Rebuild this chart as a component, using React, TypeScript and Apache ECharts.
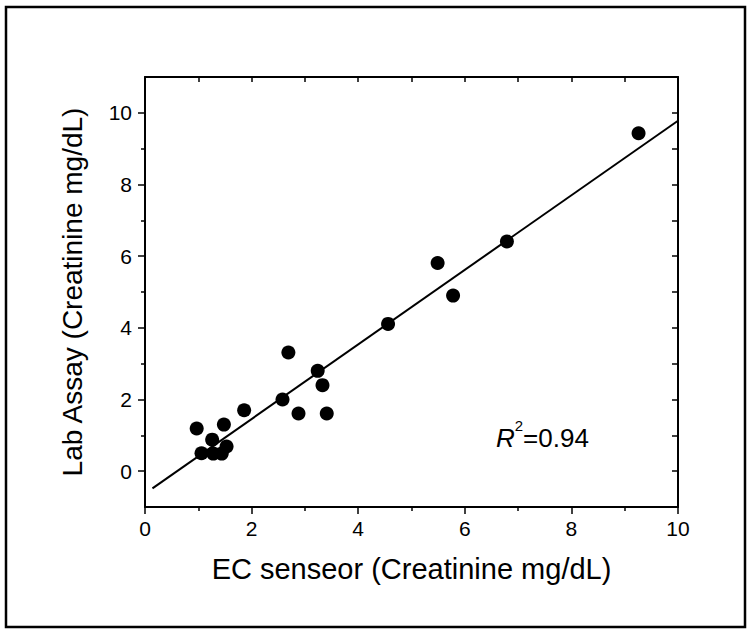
import React, { useEffect, useRef } from "react";
import * as echarts from "echarts";

const sensorValues = [0.97, 1.06, 1.26, 1.28, 1.44, 1.48, 1.53, 1.86, 2.58, 2.69, 2.88, 3.24, 3.33, 3.41, 4.56, 5.49, 5.78, 6.79, 9.26];
const labValues = [1.19, 0.5, 0.88, 0.49, 0.49, 1.3, 0.69, 1.7, 2.0, 3.31, 1.61, 2.8, 2.4, 1.61, 4.11, 5.81, 4.9, 6.41, 9.43];
const fitX = [0.14, 10];
const fitY = [-0.48, 9.78];
const yMajorTicks = [0, 2, 4, 6, 8, 10];
const yMinorTicks = [1, 3, 5, 7, 9];
const xTitle = "EC senseor (Creatinine mg/dL)";
const yTitle = "Lab Assay (Creatinine mg/dL)";
const r2Label = "0.94";

const FONT = "Liberation Sans, Arial, Helvetica, sans-serif";

export default function App() {
  const ref = useRef<HTMLDivElement>(null);
  useEffect(() => {
    if (!ref.current) return;
    const chart = echarts.init(ref.current, null, { renderer: "svg" });
    const axisLine = { show: true, onZero: false, lineStyle: { color: "#000", width: 2 } };
    const tickStyle = { color: "#000", width: 1.5 };
    const mainX = {
      type: "value",
      min: 0,
      max: 10,
      interval: 2,
      position: "bottom",
      axisLine,
      axisTick: { show: true, inside: false, length: 7, lineStyle: tickStyle },
      minorTick: { show: true, splitNumber: 2, length: 4, lineStyle: tickStyle },
      splitLine: { show: false },
      axisLabel: { show: true, color: "#000", fontSize: 21, fontFamily: FONT, margin: 11 },
      name: xTitle,
      nameLocation: "middle",
      nameGap: 47,
      nameTextStyle: { color: "#000", fontSize: 29, fontFamily: FONT },
    };
    const topX = {
      type: "value",
      min: 0,
      max: 10,
      interval: 1,
      position: "top",
      axisLine,
      axisTick: { show: true, inside: true, length: 5, lineStyle: tickStyle },
      axisLabel: { show: false },
      splitLine: { show: false },
    };
    const mainY = {
      type: "value",
      min: -1,
      max: 11,
      interval: 1,
      position: "left",
      axisLine,
      axisTick: { show: true, inside: false, length: 7, lineStyle: tickStyle, customValues: yMajorTicks },
      splitLine: { show: false },
      axisLabel: { show: true, color: "#000", fontSize: 21, fontFamily: FONT, margin: 13, customValues: yMajorTicks },
      name: yTitle,
      nameLocation: "middle",
      nameGap: 59,
      nameRotate: 90,
      nameTextStyle: { color: "#000", fontSize: 28, fontFamily: FONT },
    };
    const minorY = {
      type: "value",
      min: -1,
      max: 11,
      interval: 1,
      position: "left",
      axisLine: { show: false },
      axisTick: { show: true, inside: false, length: 4, lineStyle: tickStyle, customValues: yMinorTicks },
      axisLabel: { show: false },
      splitLine: { show: false },
    };
    const rightY = {
      type: "value",
      min: -1,
      max: 11,
      interval: 1,
      position: "right",
      axisLine,
      axisTick: { show: true, inside: true, length: 6, lineStyle: tickStyle },
      axisLabel: { show: false },
      splitLine: { show: false },
    };
    chart.setOption({
      animation: false,
      backgroundColor: "#fff",
      grid: { left: 145, top: 77, right: 72, bottom: 126, containLabel: false },
      xAxis: [mainX, topX],
      yAxis: [mainY, rightY, minorY],
      series: [
        {
          type: "line",
          xAxisIndex: 0,
          yAxisIndex: 0,
          data: fitX.map((x, i) => [x, fitY[i]]),
          symbol: "none",
          lineStyle: { color: "#000", width: 2 },
          silent: true,
        },
        {
          type: "scatter",
          xAxisIndex: 0,
          yAxisIndex: 0,
          data: sensorValues.map((x, i) => [x, labValues[i]]),
          symbol: "circle",
          symbolSize: 14,
          itemStyle: { color: "#000", opacity: 1 },
        },
      ],
      graphic: [
        {
          type: "rect",
          shape: { x: 6, y: 7, width: 739, height: 620 },
          style: { fill: "none", stroke: "#000", lineWidth: 2.5 },
          silent: true,
          z: 100,
        },
        {
          type: "text",
          x: 496,
          y: 413,
          style: {
            text: "{r|R}{s|2}{n|=" + r2Label + "}",
            textVerticalAlign: "top",
            rich: {
              r: { font: `italic 26px ${FONT}`, fill: "#000", lineHeight: 38, verticalAlign: "bottom" },
              s: { font: `15px ${FONT}`, fill: "#000", lineHeight: 16, verticalAlign: "top", padding: [5, 0, 0, 0] },
              n: { font: `26px ${FONT}`, fill: "#000", lineHeight: 38, verticalAlign: "bottom" },
            },
          },
        },
      ],
    });
    return () => chart.dispose();
  }, []);
  return <div ref={ref} style={{ position: "fixed", left: 0, top: 0, width: 750, height: 633 }} />;
}
